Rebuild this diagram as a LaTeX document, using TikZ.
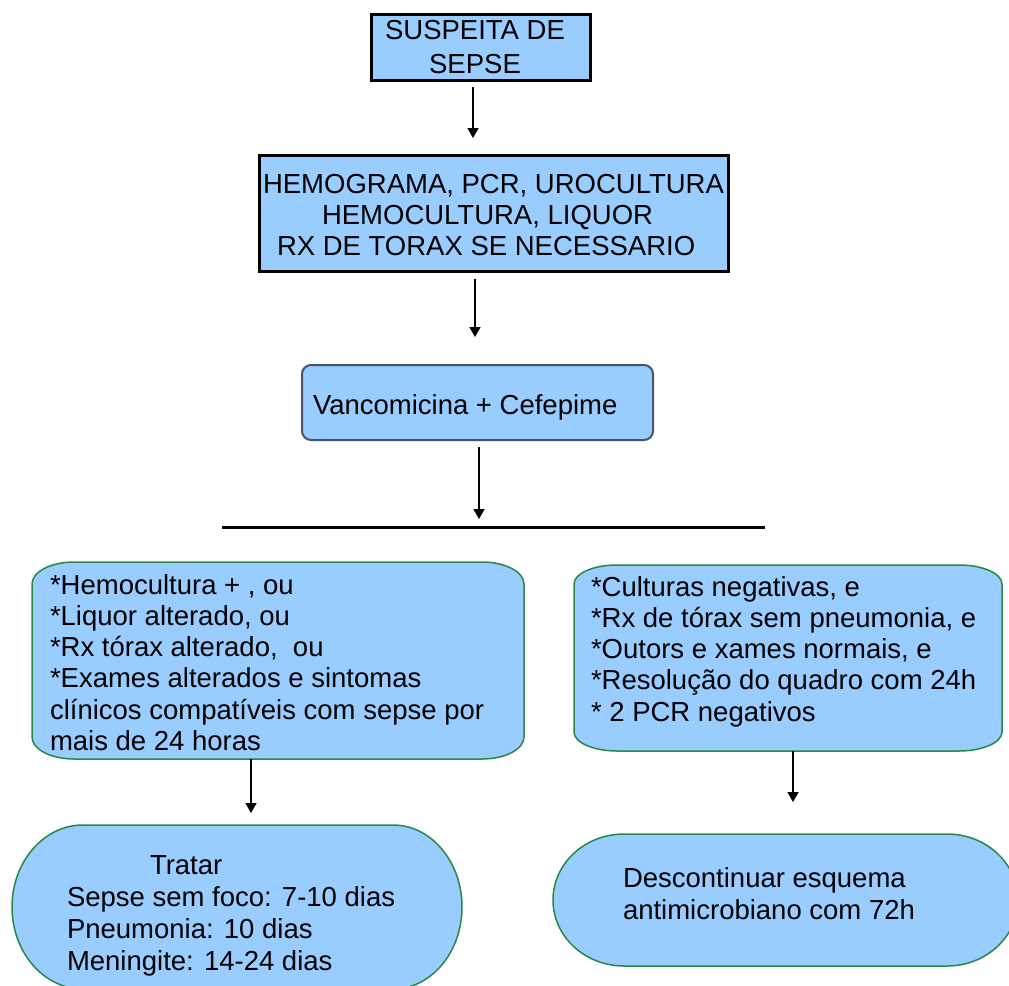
\documentclass[tikz,border=0pt]{standalone}
\usepackage{fontspec}
\setmainfont{Liberation Sans}
\usetikzlibrary{arrows.meta,calc}
\definecolor{boxblue}{HTML}{99CCFF}
\definecolor{boxgreen}{RGB}{40,135,70}
\definecolor{vgray}{RGB}{70,84,100}
% #1 style, #2 x left, #3 y top, #4 x right, #5 y bottom (page pixels, y down), #6 rx, #7 ry
\newcommand\myebox[7]{%
  \path[#1] (#2+#6,-#3) -- (#4-#6,-#3)
    arc[start angle=90,end angle=0,x radius=#6,y radius=#7] -- (#4,-#5+#7)
    arc[start angle=0,end angle=-90,x radius=#6,y radius=#7] -- (#2+#6,-#5)
    arc[start angle=270,end angle=180,x radius=#6,y radius=#7] -- (#2,-#3-#7)
    arc[start angle=180,end angle=90,x radius=#6,y radius=#7] -- cycle;}
\begin{document}
\begin{tikzpicture}[x=1pt,y=1pt,
  txt/.style={inner sep=0,outer sep=0,font=\fontsize{27.5}{31.3}\selectfont,align=left,anchor=base west},
  sqbox/.style={draw=black,line width=3pt,fill=boxblue,inner sep=0,outer sep=0},
  rbox/.style={draw=vgray,line width=2pt,fill=boxblue,rounded corners=9pt,inner sep=0,outer sep=0},
  gbox/.style={draw=boxgreen,line width=1.5pt,fill=boxblue},
  area/.style={inner sep=0,outer sep=0},
  arr/.style={draw=black,line width=1.6pt,-{Triangle[width=11pt,length=10pt]}}]
\useasboundingbox (0,0) rectangle (1009,-985);
\clip (0,0) rectangle (1009,-985);

% top boxes (multi-line text nodes are anchored on their last baseline)
\node[sqbox,minimum width=219pt,minimum height=66pt] (b1) at (480.5,-47) {};
\node[txt,align=center,anchor=base,font=\fontsize{27.5}{34}\selectfont] (t1) at (475,-73) {SUSPEITA DE\\SEPSE};

\node[sqbox,minimum width=469pt,minimum height=116pt] (b2) at (493.5,-213) {};
\node[txt,font=\fontsize{27.5}{31}\selectfont] (t2) at (263,-255)
  {HEMOGRAMA, PCR, UROCULTURA\\\hspace*{59pt}HEMOCULTURA, LIQUOR\\\hspace*{14pt}RX DE TORAX SE NECESSARIO};

\node[rbox,minimum width=351pt,minimum height=75pt] (b3) at (477.5,-402.5) {};
\node[txt] (t3) at (313,-414) {Vancomicina + Cefepime};

% horizontal bar
\coordinate (h1) at (222,-527);
\coordinate (h2) at (765,-527);
\draw[line width=3pt] (h1) -- (h2);

% middle boxes
\myebox{gbox}{32}{562}{524}{759}{42}{22}
\node[area,minimum width=492pt,minimum height=197pt] (b4) at (278,-660.5) {};
\node[txt] (t4) at (50,-750.5)
  {*Hemocultura + , ou\\*Liquor alterado, ou\\*Rx tórax alterado,\ \ ou\\*Exames alterados e sintomas\\clínicos compatíveis com sepse por\\mais de 24 horas};

\myebox{gbox}{574}{565}{1002}{751}{43}{19}
\node[area,minimum width=428pt,minimum height=186pt] (b5) at (788,-658) {};
\node[txt,font=\fontsize{27.5}{31.25}\selectfont] (t5) at (591,-721)
  {*Culturas negativas, e\\*Rx de tórax sem pneumonia, e\\*Outors e xames normais, e\\*Resolução do quadro com 24h\\* 2 PCR negativos};

% bottom rounded shapes
\path[gbox] (83,-825) -- (393,-825)
  arc[start angle=90,end angle=-90,x radius=69,y radius=82] -- (83,-989)
  arc[start angle=270,end angle=90,x radius=71,y radius=82] -- cycle;
\node[area,minimum width=450pt,minimum height=164pt] (b6) at (237,-907) {};
\node[txt,font=\fontsize{27.5}{32}\selectfont] (t6) at (67,-970)
  {\hspace*{83pt}Tratar\\Sepse sem foco: 7-10 dias\\Pneumonia: 10 dias\\Meningite: 14-24 dias};

\path[gbox] (624,-834) -- (947,-834)
  arc[start angle=90,end angle=-90,x radius=71,y radius=66] -- (624,-966)
  arc[start angle=270,end angle=90,x radius=71,y radius=66] -- cycle;
\node[area,minimum width=465pt,minimum height=132pt] (b7) at (785.5,-900) {};
\node[txt,font=\fontsize{27.5}{32}\selectfont] (t7) at (623,-919)
  {Descontinuar esquema\\antimicrobiano com 72h};

% arrows
\coordinate (ax1) at (473,0);
\coordinate (ax2) at (475,0);
\coordinate (ax3) at (479,0);
\coordinate (ax4) at (251,0);
\coordinate (ax5) at (793,0);
\draw[arr,shorten <=7pt,shorten >=17pt] (b1.south -| ax1) -- (b2.north -| ax1);
\draw[arr,shorten <=8pt,shorten >=28pt] (b2.south -| ax2) -- (b3.north -| ax2);
\draw[arr,shorten <=7pt,shorten >=8pt] (b3.south -| ax3) -- (h1 -| ax3);
\draw[arr,shorten >=12pt] (b4.south -| ax4) -- (b6.north -| ax4);
\draw[arr,shorten >=32pt] (b5.south -| ax5) -- (b7.north -| ax5);
\end{tikzpicture}
\end{document}
